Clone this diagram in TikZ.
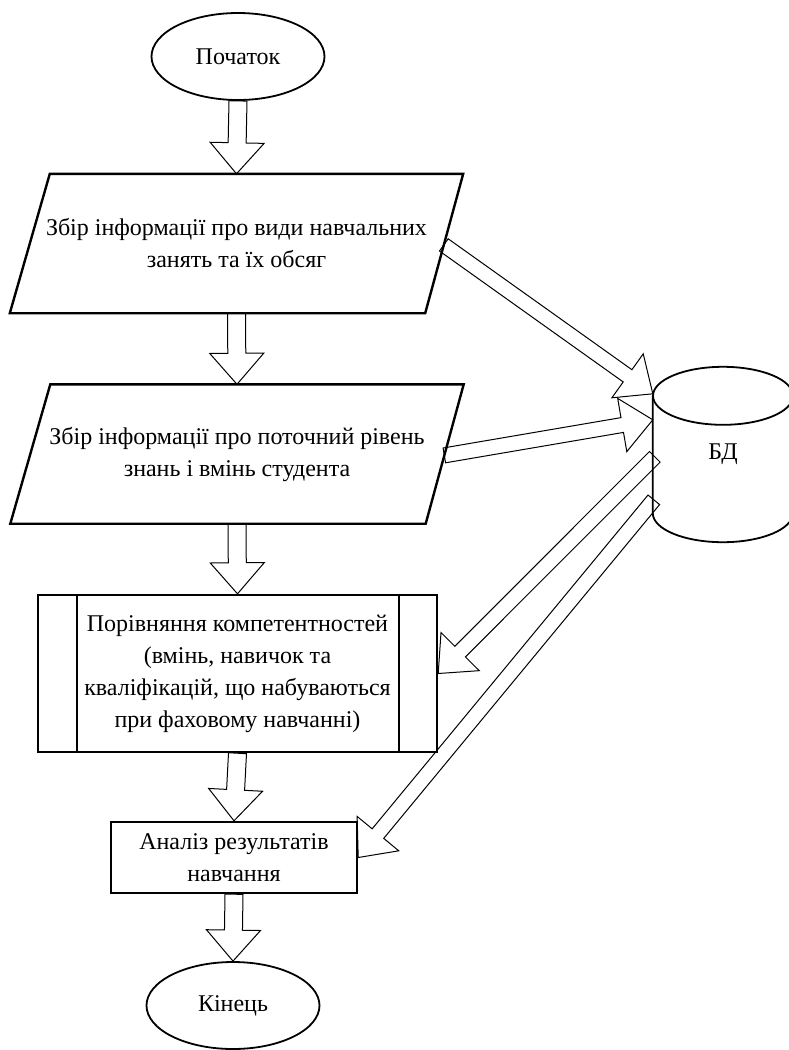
\documentclass[tikz,border=0pt]{standalone}
\usepackage{fontspec}
\setmainfont{Liberation Serif}
\usetikzlibrary{shapes.geometric,calc}

% hollow block arrow from #2 to #3, half shaft width #1
\newcommand{\blockarr}[3][9pt]{%
  \coordinate (ba) at ($(#3)!31pt!(#2)$);
  \draw[barrow] ($(#2)!#1!90:(#3)$) -- ($(ba)!#1!-90:(#2)$)
    -- ($(ba)!27pt!-90:(#2)$) -- (#3) -- ($(ba)!27pt!90:(#2)$)
    -- ($(ba)!#1!90:(#2)$) -- ($(#2)!#1!-90:(#3)$) -- cycle;
}
% parallelogram round a box node
\newcommand{\iobox}[1]{%
  \draw[line width=2.4pt, line join=miter] ($(#1.north west)+(40,0)$) -- (#1.north east)
    -- ($(#1.south east)+(-38,0)$) -- (#1.south west) -- cycle;
}

\begin{document}
\begin{tikzpicture}[x=1pt,y=-1pt,
  font=\fontsize{24}{32}\selectfont,
  term/.style={ellipse, draw, line width=1.8pt, minimum width=173pt,
    minimum height=87pt, inner sep=0pt},
  io/.style={rectangle, minimum width=453pt, minimum height=139pt,
    align=center, inner sep=0pt},
  subproc/.style={rectangle, draw, line width=2.4pt, minimum width=399pt,
    minimum height=157pt, align=center, inner sep=0pt},
  proc/.style={rectangle, draw, line width=2.4pt, minimum width=246pt,
    minimum height=71pt, align=center, inner sep=0pt},
  barrow/.style={line width=1pt, line join=miter}]
\useasboundingbox (0,0) rectangle (789,1050);

\node[term] (start) at (238,56.5) {Початок};
\node[io] (par1) at (236.5,243.5) {Збір інформації про види навчальних\\занять та їх обсяг};
\iobox{par1}
\node[io] (par2) at (237,454) {Збір інформації про поточний рівень\\знань і вмінь студента};
\iobox{par2}
\node[subproc] (cmp) at (237.5,673.5) {Порівняння компетентностей\\(вмінь, навичок та\\кваліфікацій, що набуваються\\при фаховому навчанні)};
\draw[line width=2.4pt] ($(cmp.north west)+(40,0)$) -- ($(cmp.south west)+(40,0)$);
\draw[line width=2.4pt] ($(cmp.north east)+(-39,0)$) -- ($(cmp.south east)+(-39,0)$);
\node[proc] (res) at (234,857.5) {Аналіз результатів\\навчання};
\node[term] (end) at (233,1005.5) {Кінець};

% database
\node[minimum width=140pt, minimum height=175pt, inner sep=0pt] (db) at (723,454.5) {БД};
\draw[line width=1.8pt] ($(db.north west)+(0,29)$) -- ($(db.south west)+(0,-29)$)
  arc[start angle=180, end angle=360, x radius=70pt, y radius=29pt]
  -- ($(db.north east)+(0,29)$);
\draw[line width=1.8pt] ($(db.north)+(0,29)$) ellipse[x radius=70pt, y radius=29pt];

\coordinate (t1) at ($(par1.north east)!0.51!($(par1.south east)+(-38,0)$)$);
\coordinate (t2) at ($(par2.north east)!0.51!($(par2.south east)+(-38,0)$)$);
\coordinate (h1) at ($(db.north west)+(0,27)$);
\coordinate (h2) at ($(db.north west)+(0,53)$);
\coordinate (t3) at ($(db.north west)+(2,90)$);
\coordinate (t4) at ($(db.north west)+(1,133)$);

\blockarr{start.south}{par1.north}
\blockarr{par1.south}{par2.north}
\blockarr{par2.south}{cmp.north}
\blockarr{cmp.south}{res.north}
\blockarr{res.south}{end.north}

\blockarr[7.5pt]{t1}{h1}
\blockarr[7.5pt]{t2}{h2}
\blockarr[7.5pt]{t3}{cmp.east}
\blockarr[7.5pt]{t4}{res.east}
\end{tikzpicture}
\end{document}
